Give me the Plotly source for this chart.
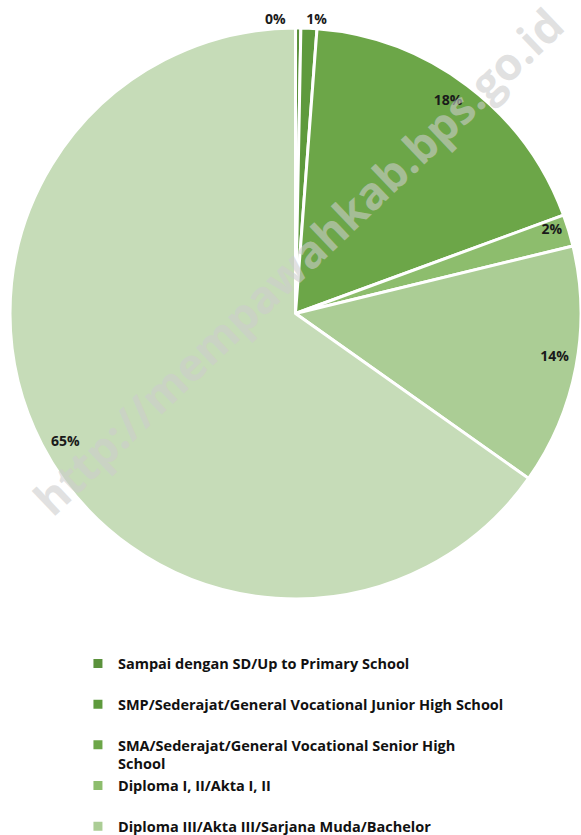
import plotly.graph_objects as go

categories = [
    "Sampai dengan SD/Up to Primary School",
    "SMP/Sederajat/General Vocational Junior High School",
    "SMA/Sederajat/General Vocational Senior High School",
    "Diploma I, II/Akta I, II",
    "Diploma III/Akta III/Sarjana Muda/Bachelor",
    "Diploma IV/S1/S2/S3",
]
values = [0.3, 0.9, 18.2, 1.8, 13.6, 65.2]
colors = ["#5b923c", "#5e9a3d", "#6ca648", "#8dbd6d", "#abcd95", "#c6dcb8"]

# legend text: wrap the long third label, pad the others to two lines
wrap = {
    "SMA/Sederajat/General Vocational Senior High School":
        "SMA/Sederajat/General Vocational Senior High<br>School",
}
legend_labels = [wrap.get(c, c + "<br>&nbsp;") for c in categories]

font_family = "Open Sans"

fig = go.Figure()
fig.add_trace(go.Pie(
    labels=legend_labels,
    values=values,
    sort=False,
    direction="clockwise",
    rotation=0,
    marker=dict(colors=colors, line=dict(color="white", width=3)),
    textinfo="none",
    hoverinfo="label+percent",
))
# label ring: transparent donut carrying the percentage texts near the rim
fig.add_trace(go.Pie(
    labels=legend_labels,
    values=values,
    sort=False,
    direction="clockwise",
    rotation=-1.5,
    hole=0.84,
    marker=dict(colors=["rgba(0,0,0,0)"] * len(values), line=dict(width=0)),
    texttemplate="%{percent:.0%}",
    textposition=["outside", "outside", "inside", "inside", "inside", "inside"],
    insidetextorientation="horizontal",
    textfont=dict(family=font_family, size=14, color="#1a1a1a", weight="bold"),
    showlegend=False,
    hoverinfo="skip",
))

fig.add_annotation(
    text="http://mempawahkab.bps.go.id",
    x=0.505, y=0.592, xref="paper", yref="paper",
    showarrow=False, textangle=-43.6,
    font=dict(family=font_family, size=45, color="rgba(205,205,205,0.6)", weight="bold"),
)

fig.update_layout(
    width=581, height=835,
    margin=dict(l=10, r=0, t=28, b=236, autoexpand=False),
    paper_bgcolor="white",
    plot_bgcolor="white",
    uniformtext=dict(minsize=14, mode="show"),
    showlegend=True,
    legend=dict(
        orientation="v",
        x=0.119, xanchor="left",
        y=-0.085, yanchor="top",
        valign="top",
        font=dict(family=font_family, size=14.5, color="#111111", weight="bold"),
        bgcolor="rgba(0,0,0,0)",
    ),
)

fig.write_html(
    "out.html",
    config={"displayModeBar": False},
    post_script="document.body.style.margin='0px';",
)
